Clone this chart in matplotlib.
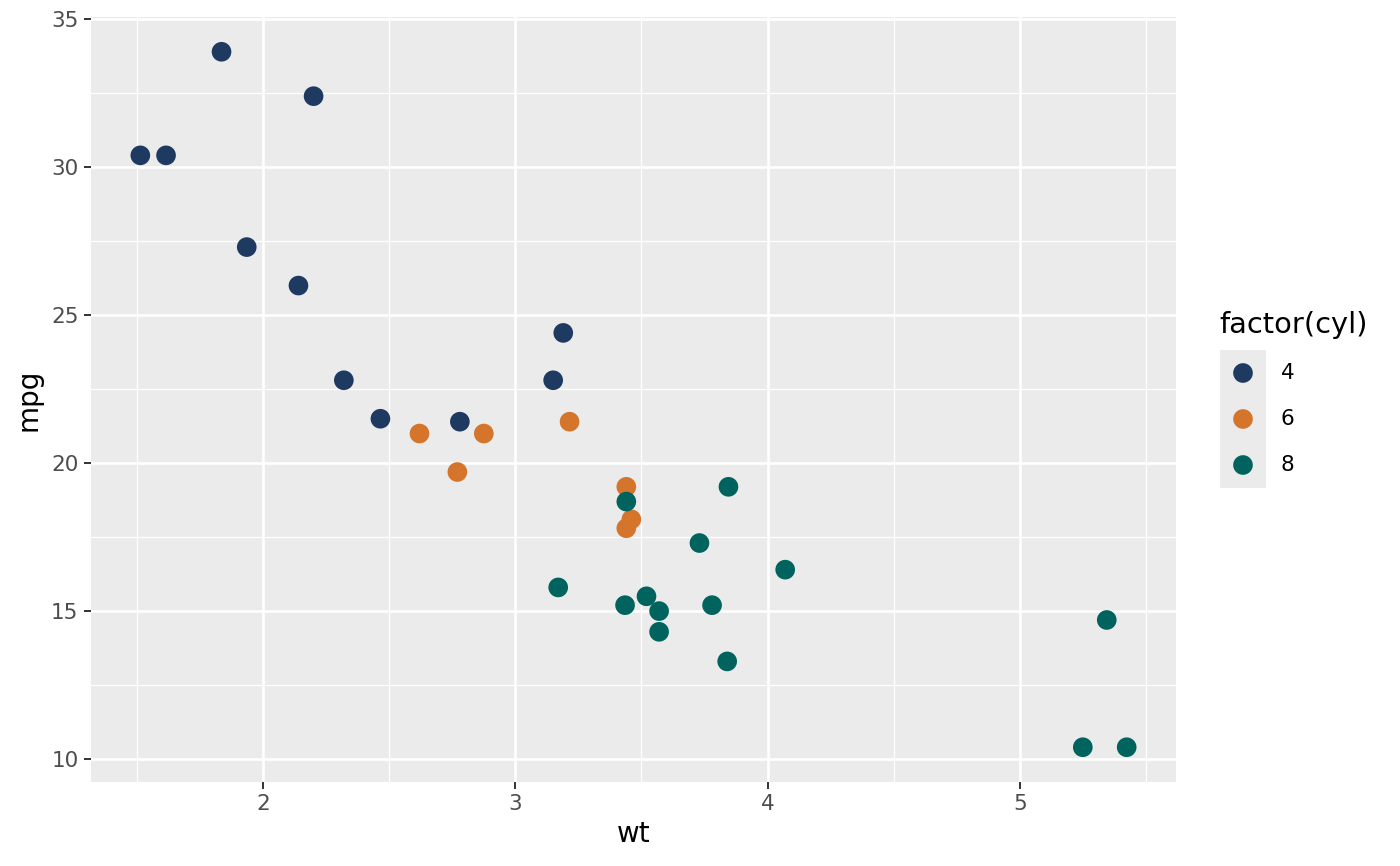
import matplotlib
matplotlib.use("Agg")
import matplotlib.pyplot as plt
import numpy as np

wt = [2.620, 2.875, 2.320, 3.215, 3.440, 3.460, 3.570, 3.190, 3.150, 3.440, 3.440,
      4.070, 3.730, 3.780, 5.250, 5.424, 5.345, 2.200, 1.615, 1.835, 2.465, 3.520,
      3.435, 3.840, 3.845, 1.935, 2.140, 1.513, 3.170, 2.770, 3.570, 2.780]
mpg = [21.0, 21.0, 22.8, 21.4, 18.7, 18.1, 14.3, 24.4, 22.8, 19.2, 17.8,
       16.4, 17.3, 15.2, 10.4, 10.4, 14.7, 32.4, 30.4, 33.9, 21.5, 15.5,
       15.2, 13.3, 19.2, 27.3, 26.0, 30.4, 15.8, 19.7, 15.0, 21.4]
cyl = [6, 6, 4, 6, 8, 6, 8, 4, 4, 6, 6, 8, 8, 8, 8, 8, 8, 4, 4, 4, 4, 8,
       8, 8, 8, 4, 4, 4, 8, 6, 8, 4]
levels = [4, 6, 8]
colors = {4: "#1f3a60", 6: "#d5742b", 8: "#00635e"}

W, H = 1400, 866
fig = plt.figure(figsize=(W/100, H/100), dpi=100)
ax = fig.add_axes([91/W, 1 - 782/H, (1176-91)/W, (782-17)/H])
ax.set_facecolor("#ebebeb")

wt_a = np.array(wt); mpg_a = np.array(mpg); cyl_a = np.array(cyl)
for lv in levels:
    m = cyl_a == lv
    ax.scatter(wt_a[m], mpg_a[m], s=200, color=colors[lv], edgecolors="none", zorder=3)

xr = wt_a.max() - wt_a.min(); yr = mpg_a.max() - mpg_a.min()
ax.set_xlim(wt_a.min() - 0.05*xr, wt_a.max() + 0.05*xr)
ax.set_ylim(mpg_a.min() - 0.05*yr, mpg_a.max() + 0.05*yr)

xt = [2, 3, 4, 5]; yt = [10, 15, 20, 25, 30, 35]
ax.set_xticks(xt); ax.set_yticks(yt)
ax.set_xticks([1.5, 2.5, 3.5, 4.5, 5.5], minor=True)
ax.set_yticks([12.5, 17.5, 22.5, 27.5, 32.5], minor=True)
ax.grid(True, which="major", color="white", linewidth=1.9)
ax.grid(True, which="minor", color="white", linewidth=0.9)
ax.set_axisbelow(True)
for s in ax.spines.values():
    s.set_visible(False)
ax.tick_params(which="major", length=5, width=1.4, color="#333333",
               labelsize=15.5, labelcolor="#4d4d4d", pad=4)
ax.tick_params(which="minor", length=0)
ax.set_xlabel("wt", fontsize=20, labelpad=4)
ax.set_ylabel("mpg", fontsize=20, labelpad=6)

# legend
fig.text(1219/W, 1 - 325/H, "factor(cyl)", fontsize=20.8, va="center", ha="left")
lax = fig.add_axes([1220/W, 1 - 488/H, 46/W, 138/H])
lax.set_facecolor("#ebebeb")
lax.set_xlim(0, 1); lax.set_ylim(0, 3)
for i, lv in enumerate(levels):
    yy = 2.5 - i
    lax.scatter([0.5], [yy], s=200, color=colors[lv], edgecolors="none")
    fig.text(1281/W, 1 - (373 + 46*i)/H, str(lv), fontsize=15.5, va="center", ha="left")
lax.set_xticks([]); lax.set_yticks([])
for s in lax.spines.values():
    s.set_visible(False)

fig.savefig("out.png", dpi=100)
